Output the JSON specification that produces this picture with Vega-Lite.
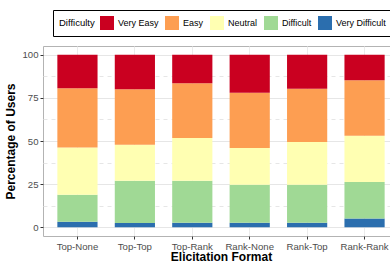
{
  "$schema": "https://vega.github.io/schema/vega-lite/v6.json",
  "width": 356,
  "height": 190,
  "padding": {"left": 4, "top": 9, "right": 0, "bottom": 0},
  "autosize": {"type": "pad"},
  "background": "white",
  "data": {
    "values": [
      {"format": "Top-None", "difficulty": "Very Difficult", "level": 1, "pct": 3.3},
      {"format": "Top-None", "difficulty": "Difficult", "level": 2, "pct": 15.6},
      {"format": "Top-None", "difficulty": "Neutral", "level": 3, "pct": 27.3},
      {"format": "Top-None", "difficulty": "Easy", "level": 4, "pct": 34.4},
      {"format": "Top-None", "difficulty": "Very Easy", "level": 5, "pct": 19.4},
      {"format": "Top-Top", "difficulty": "Very Difficult", "level": 1, "pct": 2.5},
      {"format": "Top-Top", "difficulty": "Difficult", "level": 2, "pct": 24.5},
      {"format": "Top-Top", "difficulty": "Neutral", "level": 3, "pct": 20.8},
      {"format": "Top-Top", "difficulty": "Easy", "level": 4, "pct": 32.2},
      {"format": "Top-Top", "difficulty": "Very Easy", "level": 5, "pct": 20.0},
      {"format": "Top-Rank", "difficulty": "Very Difficult", "level": 1, "pct": 2.6},
      {"format": "Top-Rank", "difficulty": "Difficult", "level": 2, "pct": 24.4},
      {"format": "Top-Rank", "difficulty": "Neutral", "level": 3, "pct": 24.7},
      {"format": "Top-Rank", "difficulty": "Easy", "level": 4, "pct": 31.8},
      {"format": "Top-Rank", "difficulty": "Very Easy", "level": 5, "pct": 16.5},
      {"format": "Rank-None", "difficulty": "Very Difficult", "level": 1, "pct": 2.6},
      {"format": "Rank-None", "difficulty": "Difficult", "level": 2, "pct": 22.1},
      {"format": "Rank-None", "difficulty": "Neutral", "level": 3, "pct": 21.2},
      {"format": "Rank-None", "difficulty": "Easy", "level": 4, "pct": 32.1},
      {"format": "Rank-None", "difficulty": "Very Easy", "level": 5, "pct": 22.0},
      {"format": "Rank-Top", "difficulty": "Very Difficult", "level": 1, "pct": 2.6},
      {"format": "Rank-Top", "difficulty": "Difficult", "level": 2, "pct": 22.1},
      {"format": "Rank-Top", "difficulty": "Neutral", "level": 3, "pct": 24.7},
      {"format": "Rank-Top", "difficulty": "Easy", "level": 4, "pct": 30.8},
      {"format": "Rank-Top", "difficulty": "Very Easy", "level": 5, "pct": 19.8},
      {"format": "Rank-Rank", "difficulty": "Very Difficult", "level": 1, "pct": 5.2},
      {"format": "Rank-Rank", "difficulty": "Difficult", "level": 2, "pct": 21.0},
      {"format": "Rank-Rank", "difficulty": "Neutral", "level": 3, "pct": 26.8},
      {"format": "Rank-Rank", "difficulty": "Easy", "level": 4, "pct": 32.2},
      {"format": "Rank-Rank", "difficulty": "Very Easy", "level": 5, "pct": 14.8}
    ]
  },
  "mark": {"type": "bar"},
  "encoding": {
    "x": {
      "field": "format",
      "type": "nominal",
      "sort": ["Top-None", "Top-Top", "Top-Rank", "Rank-None", "Rank-Top", "Rank-Rank"],
      "scale": {"paddingInner": 0.3, "paddingOuter": 0.25},
      "title": "Elicitation Format",
      "axis": {
        "bandPosition": 0.5,
        "grid": true,
        "gridColor": "#ebebeb",
        "domain": false,
        "tickSize": 3,
        "tickColor": "#333333",
        "labelAngle": 0,
        "labelFontSize": 9.6,
        "labelColor": "#4d4d4d",
        "labelPadding": 2,
        "titleFontSize": 12,
        "titleFontWeight": "bold",
        "titleColor": "black",
        "titlePadding": 1
      }
    },
    "y": {
      "field": "pct",
      "type": "quantitative",
      "stack": "zero",
      "scale": {"domain": [-5, 105], "nice": false, "zero": false},
      "title": "Percentage of Users",
      "axis": {
        "values": [0, 12.5, 25, 37.5, 50, 62.5, 75, 87.5, 100],
        "labelExpr": "datum.value % 25 === 0 ? datum.label : ''",
        "grid": true,
        "gridColor": "#e6e6e6",
        "gridDash": {"condition": {"test": "datum.value % 25 !== 0", "value": [4, 4]}, "value": []},
        "tickOpacity": {"condition": {"test": "datum.value % 25 !== 0", "value": 0}, "value": 1},
        "domain": false,
        "tickSize": 3,
        "tickColor": "#333333",
        "labelFontSize": 9.6,
        "labelColor": "#4d4d4d",
        "labelPadding": 2,
        "titleFontSize": 12,
        "titleFontWeight": "bold",
        "titleColor": "black",
        "titlePadding": 4
      }
    },
    "color": {
      "field": "difficulty",
      "type": "nominal",
      "title": "Difficulty",
      "scale": {
        "domain": ["Very Easy", "Easy", "Neutral", "Difficult", "Very Difficult"],
        "range": ["#ca0020", "#fd9e52", "#ffffb2", "#a0d995", "#2b6eae"]
      },
      "legend": {
        "orient": "none",
        "legendX": 10,
        "legendY": -36,
        "direction": "horizontal",
        "titleOrient": "left",
        "symbolType": "square",
        "symbolSize": 196,
        "symbolStrokeWidth": 0,
        "symbolOpacity": 1,
        "labelFontSize": 9,
        "labelColor": "black",
        "titleFontSize": 9.5,
        "titleFontWeight": "normal",
        "titleColor": "black",
        "strokeColor": "black",
        "padding": 6,
        "columnPadding": 6,
        "labelOffset": 4,
        "titlePadding": 5,
        "cornerRadius": 0
      }
    },
    "order": {"field": "level", "type": "quantitative", "sort": "ascending"}
  },
  "config": {
    "font": "Liberation Sans",
    "view": {"stroke": "#b3b3b3", "strokeWidth": 1}
  }
}
